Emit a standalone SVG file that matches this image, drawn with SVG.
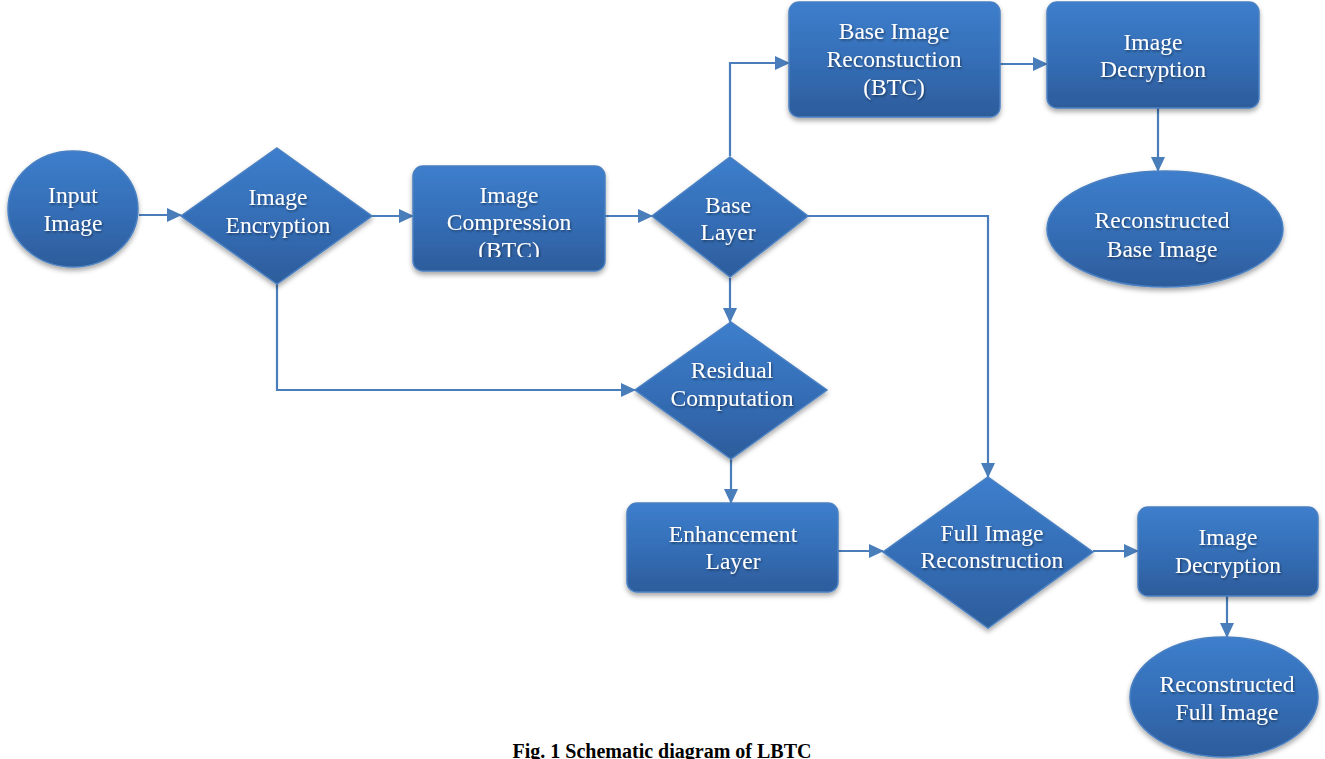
<svg xmlns="http://www.w3.org/2000/svg" width="1325" height="759" viewBox="0 0 1325 759">
<defs>
<linearGradient id="g" x1="0" y1="0" x2="0" y2="1">
<stop offset="0" stop-color="#3d7ecc"/>
<stop offset="0.55" stop-color="#346db5"/>
<stop offset="1" stop-color="#2d5c9b"/>
</linearGradient>
<filter id="sh" x="-20%" y="-20%" width="140%" height="150%">
<feDropShadow dx="0" dy="3" stdDeviation="2.5" flood-color="#000" flood-opacity="0.35"/>
</filter>
<filter id="tsh" x="-10%" y="-20%" width="120%" height="160%">
<feDropShadow dx="1" dy="1.5" stdDeviation="1" flood-color="#000" flood-opacity="0.45"/>
</filter>
<marker id="arr" markerUnits="userSpaceOnUse" markerWidth="16" markerHeight="14" refX="14" refY="7" orient="auto">
<path d="M0,0 L15,7 L0,14 z" fill="#4a7ebb"/>
</marker>
<clipPath id="clipComp"><rect x="413" y="166" width="192" height="91"/></clipPath>
</defs>
<style>
.n{fill:url(#g);stroke:#4a80c2;stroke-width:1.5;filter:url(#sh)}
.t{font-family:"Liberation Serif","Times New Roman",serif;font-size:23.6px;fill:#fff;text-anchor:middle;filter:url(#tsh)}
.c{fill:none;stroke:#4a7ebb;stroke-width:2.2;marker-end:url(#arr)}
.cap{font-family:"Liberation Serif","Times New Roman",serif;font-size:20px;font-weight:bold;fill:#000;text-anchor:middle}
</style>
<rect width="1325" height="759" fill="#fff"/>
<g id="connectors">
<path class="c" d="M139,215 H181"/>
<path class="c" d="M372,216 H413"/>
<path class="c" d="M605,216 H652"/>
<path class="c" d="M730,156 V63 H789"/>
<path class="c" d="M1000,64 H1047"/>
<path class="c" d="M1158,108 V171"/>
<path class="c" d="M808,216 H988 V477"/>
<path class="c" d="M730,278 V322"/>
<path class="c" d="M277,284 V390 H635"/>
<path class="c" d="M731,459 V503"/>
<path class="c" d="M838,551 H883"/>
<path class="c" d="M1093,551 H1138"/>
<path class="c" d="M1227,596 V637"/>
</g>
<g id="input-image">
<ellipse class="n" cx="73" cy="209" rx="65" ry="58"/>
<text class="t" x="73" y="203">Input</text>
<text class="t" x="73" y="231">Image</text>
</g>
<g id="image-encryption">
<polygon class="n" points="277,148 372,216 277,284 181,216"/>
<text class="t" x="278" y="205">Image</text>
<text class="t" x="278" y="233">Encryption</text>
</g>
<g id="image-compression">
<rect class="n" x="413" y="166" width="192" height="105" rx="10"/>
<g clip-path="url(#clipComp)">
<text class="t" x="509" y="203">Image</text>
<text class="t" x="509" y="230">Compression</text>
<text class="t" x="509" y="258">(BTC)</text>
</g>
</g>
<g id="base-layer">
<polygon class="n" points="730,157 808,216 730,277 652,216"/>
<text class="t" x="728" y="213">Base</text>
<text class="t" x="728" y="240">Layer</text>
</g>
<g id="base-image-reconstruction">
<rect class="n" x="789" y="2" width="211" height="115" rx="10"/>
<text class="t" x="894" y="39">Base Image</text>
<text class="t" x="894" y="67">Reconstuction</text>
<text class="t" x="894" y="95">(BTC)</text>
</g>
<g id="image-decryption-1">
<rect class="n" x="1047" y="2" width="212" height="106" rx="10"/>
<text class="t" x="1153" y="50">Image</text>
<text class="t" x="1153" y="77">Decryption</text>
</g>
<g id="reconstructed-base-image">
<ellipse class="n" cx="1165" cy="229" rx="118" ry="58"/>
<text class="t" x="1162" y="228">Reconstructed</text>
<text class="t" x="1162" y="257">Base Image</text>
</g>
<g id="residual-computation">
<polygon class="n" points="731,322 827,390 731,459 635,390"/>
<text class="t" x="732" y="378">Residual</text>
<text class="t" x="732" y="406">Computation</text>
</g>
<g id="enhancement-layer">
<rect class="n" x="627" y="503" width="211" height="89" rx="10"/>
<text class="t" x="733" y="542">Enhancement</text>
<text class="t" x="733" y="569">Layer</text>
</g>
<g id="full-image-reconstruction">
<polygon class="n" points="988,477 1093,552 988,628 883,552"/>
<text class="t" x="992" y="541">Full Image</text>
<text class="t" x="992" y="568">Reconstruction</text>
</g>
<g id="image-decryption-2">
<rect class="n" x="1138" y="507" width="180" height="89" rx="10"/>
<text class="t" x="1228" y="545">Image</text>
<text class="t" x="1228" y="573">Decryption</text>
</g>
<g id="reconstructed-full-image">
<ellipse class="n" cx="1224" cy="697" rx="94" ry="60"/>
<text class="t" x="1227" y="692">Reconstructed</text>
<text class="t" x="1227" y="720">Full Image</text>
</g>
<text class="cap" x="662" y="758">Fig. 1 Schematic diagram of LBTC</text>
</svg>
